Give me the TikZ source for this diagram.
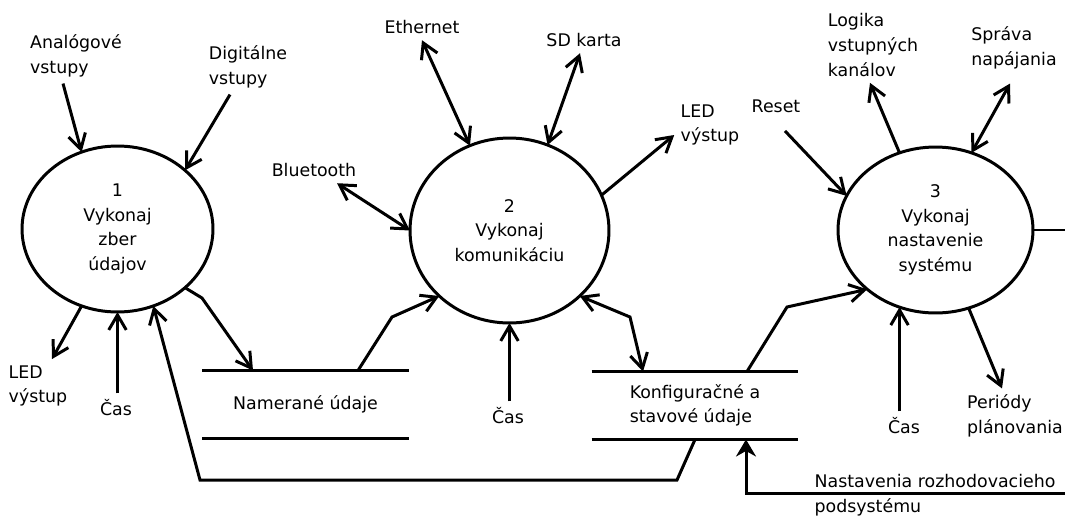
\documentclass[tikz,border=0pt]{standalone}
\usepackage{fontspec}
\setmainfont{DejaVu Sans}
\usepackage{tikz}
\usetikzlibrary{shapes.geometric,arrows.meta,positioning,calc}
\newcommand{\dfdfont}{\fontsize{9.9}{14}\selectfont}
\tikzstyle{proc}  = [ellipse, draw, line width=1.7pt, inner sep=0pt,
                     outer sep=0pt, align=center, font=\dfdfont]
\tikzstyle{lbl}   = [align=left, inner sep=0.1cm, font=\dfdfont]
\tikzstyle{store} = [minimum width=4.08cm, minimum height=1.3cm,
                     inner sep=0pt, align=left, font=\dfdfont]

\begin{document}
\begin{tikzpicture}[x=0.02cm, y=-0.02cm, line width=1.7pt,
                    >={Straight Barb[length=3mm,width=3.5mm]}]
  \useasboundingbox (0,0) rectangle (1065,518);
  % procesy
  \node[proc, minimum width=3.82cm, minimum height=3.32cm] (p1) at (117.5,229) {1\\Vykonaj\\zber\\údajov};
  \node[proc, minimum width=3.98cm, minimum height=3.70cm] (p2) at (509.5,230.5) {2\\Vykonaj\\komunikáciu};
  \node[proc, minimum width=3.90cm, minimum height=3.32cm] (p3) at (935.5,230) {3\\Vykonaj\\nastavenie\\systému};
  % sklady
  \node[store] (st1) at (305.5,404.5) {Namerané údaje};
  \node[store] (st2) at (695,405.5) {Konfiguračné a\\stavové údaje};
  \foreach \s in {st1,st2}
    \draw (\s.north west) -- (\s.north east) (\s.south west) -- (\s.south east);
  % vonkajsie toky
  \node[lbl] (ana)    at (76,56)    {Analógové\\vstupy};
  \node[lbl] (dig)    at (248,67)   {Digitálne\\vstupy};
  \node[lbl] (blue)   at (314,170)  {Bluetooth};
  \node[lbl] (eth)    at (422,27)   {Ethernet};
  \node[lbl] (sd)     at (584,40)   {SD karta};
  \node[lbl] (led2)   at (710,125)  {LED\\výstup};
  \node[lbl] (reset)  at (776,106)  {Reset};
  \node[lbl] (logika) at (873,45)   {Logika\\vstupných\\kanálov};
  \node[lbl] (sprava) at (1014,48)  {Správa\\napájania};
  \node[lbl] (led1)   at (38,386)   {LED\\výstup};
  \node[lbl] (cas1)   at (116,408)  {Čas};
  \node[lbl] (cas2)   at (508,416)  {Čas};
  \node[lbl] (cas3)   at (904,426)  {Čas};
  \node[lbl] (period) at (1015,416) {Periódy\\plánovania};
  \node[lbl] (nast)   at (935,495)  {Nastavenia rozhodovacieho\\podsystému};

  \draw[->] (ana.south -| 63,0) -- (p1.115);
  \draw[->] (dig.south -| 230,0) -- (p1.41);
  \draw[->] (p1.245) -- (led1.north -| 52,0);
  \draw[->] (p1.south |- cas1.north) -- (p1.south);
  \draw[<->] (blue.south -| 337,0) -- (p2.west);
  \draw[<->] (eth.south) -- (p2.115);
  \draw[<->] (sd.south -| 580,0) -- (p2.66);
  \draw[->] (p2.21) -- (led2.west |- 0,135);
  \draw[->] (p2.south |- cas2.north) -- (p2.south);
  \draw[->] ($(reset.south)+(9,12)$) -- (p3.159);
  \draw[->] (p3.115) -- (logika.south -| 870,0);
  \draw[<->] ($(sprava.south)+(-4,8)$) -- (p3.65);
  \draw[->] (p3.245 |- cas3.north) -- (p3.245);
  \draw[->] (p3.293) -- (period.north -| 1002,0);

  % toky medzi procesmi a skladmi
  \draw[->] (p1.319) -- (202,298) -- (st1.north -| 253,0);
  \draw[->] (st1.north -| 358,0) -- (392,317) -- (p2.223);
  \draw[<->] (p2.317) -- (630,317) -- (st2.north -| 643,0);
  \draw[->] (st2.north -| 747,0) -- (787,307) -- (p3.221);
  \draw[->] (st2.south) -- (677,480) -- (200,480) -- (p1.295);
  \draw[-{Stealth[length=3.4mm,width=4mm]}] (p3.east) -- (1075,230) -- (1075,493) -| (st2.south -| 746,0);
\end{tikzpicture}
\end{document}
